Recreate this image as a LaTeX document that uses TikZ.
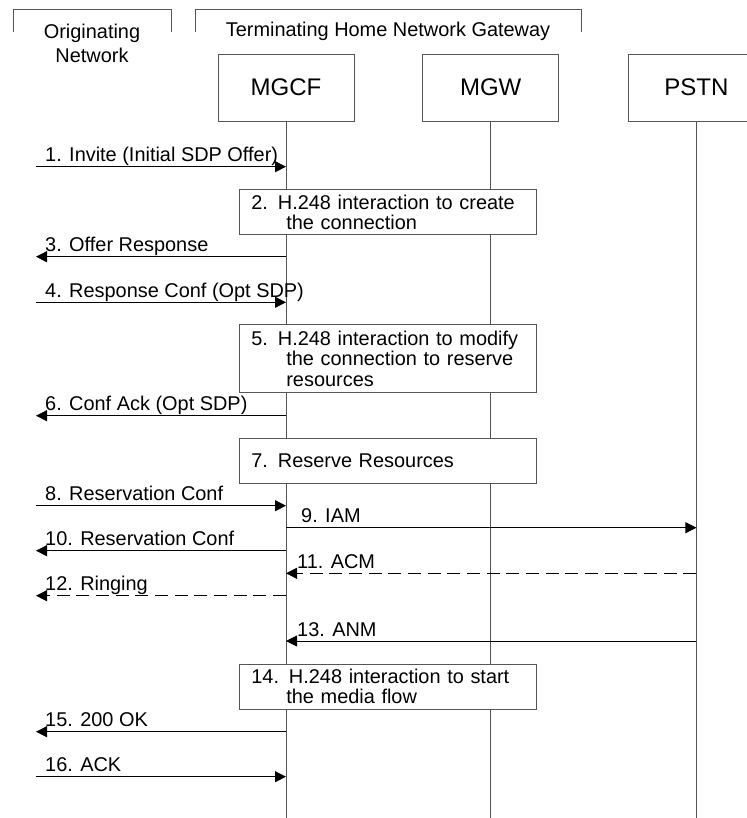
\documentclass[tikz,border=0pt]{standalone}
\usepackage{fontspec}
\setmainfont{Liberation Sans}
\usetikzlibrary{arrows.meta,positioning}
\definecolor{LineGray}{RGB}{85,85,85}
\newcommand{\msgfont}{\fontsize{17}{17.5}\selectfont}

\begin{document}
\begin{tikzpicture}[
    x=0.03cm, y=-0.03cm,
    entity/.style={draw=LineGray, line width=0.6pt, minimum width=4.08cm, minimum height=2cm,
                   font=\fontsize{20.5}{24}\selectfont},
    actbox/.style={draw=LineGray, line width=0.6pt, anchor=north west, text width=8.19cm,
                   inner xsep=0.36cm, inner ysep=0pt, align=left, font=\msgfont},
    msg/.style={-{Triangle[length=3.3mm, width=3.3mm]}, line width=0.7pt},
    lbl/.style={anchor=base west, inner sep=0pt, font=\msgfont},
    life/.style={draw=LineGray, line width=0.6pt},
    indent/.style={}
]
    \useasboundingbox (0,0) rectangle (746,818);
    % domain brackets
    \draw[LineGray, line width=0.6pt] (13,31.7) -- (13,9) -- (171,9) -- (171,31.7);
    \draw[LineGray, line width=0.6pt] (195,31.7) -- (195,9) -- (581,9) -- (581,31.7);
    \node[align=center, font=\fontsize{17}{20}\selectfont] (orignet) at (92,43.3) {Originating\\Network};
    \node[font=\msgfont] (termhome) at (388,31.7) {Terminating Home Network Gateway};

    % entities
    \node[entity] (mgcf) at (286,87.7) {MGCF};
    \node[entity, right=2.04cm of mgcf] (mgw) {MGW};
    \node[entity, right=2.07cm of mgw] (pstn) {PSTN};
    \coordinate (bot) at (0,818);
    \draw[life] (mgcf.south) -- (mgcf.south |- bot);
    \draw[life] (mgw.south) -- (mgw.south |- bot);
    \draw[life] (pstn.south) -- (pstn.south |- bot);

    % flows
    \coordinate (m1) at (36,166.7);
    \draw[msg] (m1) -- (m1 -| mgcf);
    \node[lbl] (l1) at (45,161.7) {1. Invite (Initial SDP Offer)};

    \node[actbox, fill=white, minimum height=1.35cm] (h2) at (239,189.3)
        {2. H.248 interaction to create\\\hspace*{1.05cm}the connection};

    \coordinate (m3) at (36,256.7);
    \draw[msg] (m3 -| mgcf) -- (m3);
    \node[lbl] (l3) at (45,251.7) {3. Offer Response};

    \coordinate (m4) at (36,302.3);
    \draw[msg] (m4) -- (m4 -| mgcf);
    \node[lbl] (l4) at (45,297.3) {4. Response Conf (Opt SDP)};

    \node[actbox, fill=white, minimum height=2.03cm] (h5) at (239,324.3)
        {5. H.248 interaction to modify\\\hspace*{1.05cm}the connection to reserve\\\hspace*{1.05cm}resources};

    \coordinate (m6) at (36,415.7);
    \draw[msg] (m6 -| mgcf) -- (m6);
    \node[lbl] (l6) at (45,410.7) {6. Conf Ack (Opt SDP)};

    \node[actbox, fill=white, minimum height=1.35cm] (h7) at (239,437.7) {7. Reserve Resources};

    \coordinate (m8) at (36,505.7);
    \draw[msg] (m8) -- (m8 -| mgcf);
    \node[lbl] (l8) at (45,500.7) {8. Reservation Conf};

    \coordinate (m9) at (36,527.7);
    \draw[msg] (m9 -| mgcf) -- (m9 -| pstn);
    \node[lbl] (l9) at (301,522.7) {9. IAM};

    \coordinate (m10) at (36,550.7);
    \draw[msg] (m10 -| mgcf) -- (m10);
    \node[lbl] (l10) at (45,545.7) {10. Reservation Conf};

    \coordinate (m11) at (36,573.3);
    \draw[msg, dash pattern=on 0.39cm off 0.2cm] (m11 -| pstn) -- (m11 -| mgcf);
    \node[lbl] (l11) at (297,568.3) {11. ACM};

    \coordinate (m12) at (36,595.7);
    \draw[msg, dash pattern=on 0.39cm off 0.2cm] (m12 -| mgcf) -- (m12);
    \node[lbl] (l12) at (45,590.7) {12. Ringing};

    \coordinate (m13) at (36,641);
    \draw[msg] (m13 -| pstn) -- (m13 -| mgcf);
    \node[lbl] (l13) at (297,636) {13. ANM};

    \node[actbox, fill=white, minimum height=1.35cm] (h14) at (239,663.7)
        {14. H.248 interaction to start\\\hspace*{1.05cm}the media flow};

    \coordinate (m15) at (36,731.7);
    \draw[msg] (m15 -| mgcf) -- (m15);
    \node[lbl] (l15) at (45,726.7) {15. 200 OK};

    \coordinate (m16) at (36,776.7);
    \draw[msg] (m16) -- (m16 -| mgcf);
    \node[lbl] (l16) at (45,771.7) {16. ACK};
\end{tikzpicture}
\end{document}
